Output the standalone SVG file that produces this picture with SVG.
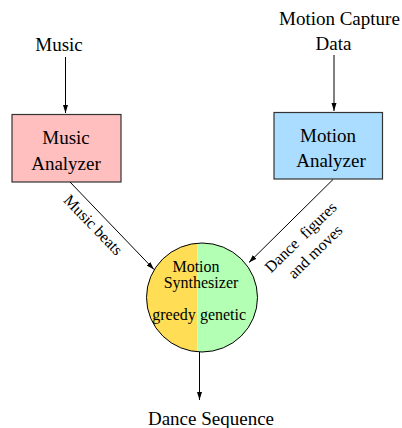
<svg xmlns="http://www.w3.org/2000/svg" width="402" height="428" viewBox="0 0 402 428">
  <style>
    text { font-family: "Liberation Serif", "Times New Roman", serif; fill: #000; }
    .big { font-size: 19px; }
    .small { font-size: 16px; }
    .box { stroke: #333; stroke-width: 1.2; }
    .edge { stroke: #000; stroke-width: 1; fill: none; marker-end: url(#arrow); }
  </style>
  <defs>
    <marker id="arrow" markerUnits="userSpaceOnUse" markerWidth="9" markerHeight="6" refX="8" refY="2.5" orient="auto">
      <path d="M0,0 L8,2.5 L0,5 z" fill="#000"/>
    </marker>
    <clipPath id="circ">
      <ellipse cx="202" cy="297.5" rx="55.5" ry="54.5"/>
    </clipPath>
  </defs>
  <rect width="402" height="428" fill="#fff"/>

  <g id="music-input">
    <text class="big" x="59" y="51" text-anchor="middle">Music</text>
  </g>
  <g id="mocap-input">
    <text class="big" x="279" y="25">Motion Capture</text>
    <text class="big" x="333.5" y="50" text-anchor="middle">Data</text>
  </g>

  <g id="music-analyzer">
    <rect class="box" x="12" y="114.5" width="109" height="67.5" fill="#ffbfbf"/>
    <text class="big" x="66" y="144" text-anchor="middle">Music</text>
    <text class="big" x="66" y="169.5" text-anchor="middle">Analyzer</text>
  </g>

  <g id="motion-analyzer">
    <rect class="box" x="274" y="112.5" width="108.5" height="66.5" fill="#aaddff"/>
    <text class="big" x="328" y="141.5" text-anchor="middle">Motion</text>
    <text class="big" x="331" y="166.5" text-anchor="middle">Analyzer</text>
  </g>

  <g id="motion-synthesizer">
    <g clip-path="url(#circ)">
      <rect x="140" y="240" width="57.5" height="120" fill="#ffdd55"/>
      <rect x="197.5" y="240" width="65" height="120" fill="#b3ffb3"/>
    </g>
    <ellipse cx="202" cy="297.5" rx="55.5" ry="54.5" fill="none" stroke="#000" stroke-width="1"/>
    <text class="small" x="196" y="272" text-anchor="middle">Motion</text>
    <text class="small" x="201" y="287.5" text-anchor="middle">Synthesizer</text>
    <text class="small" x="174" y="319.5" text-anchor="middle">greedy</text>
    <text class="small" x="223" y="319.5" text-anchor="middle">genetic</text>
  </g>

  <g id="dance-output">
    <text class="big" x="211" y="424.5" text-anchor="middle">Dance Sequence</text>
  </g>

  <g id="connectors">
    <line class="edge" x1="65.5" y1="57" x2="65.5" y2="113"/>
    <line class="edge" x1="334" y1="55" x2="334" y2="111"/>
    <line class="edge" x1="70" y1="182" x2="154" y2="269.5"/>
    <line class="edge" x1="333" y1="179.5" x2="249" y2="262.5"/>
    <line class="edge" x1="199.5" y1="352" x2="199.5" y2="400"/>
    <text class="small" text-anchor="middle" transform="translate(89.4,228.6) rotate(46)">Music beats</text>
    <text class="small" text-anchor="middle" transform="translate(304.3,241) rotate(-44.3)" xml:space="preserve">Dance  figures</text>
    <text class="small" text-anchor="middle" transform="translate(318.8,255.4) rotate(-44.3)">and moves</text>
  </g>
</svg>
